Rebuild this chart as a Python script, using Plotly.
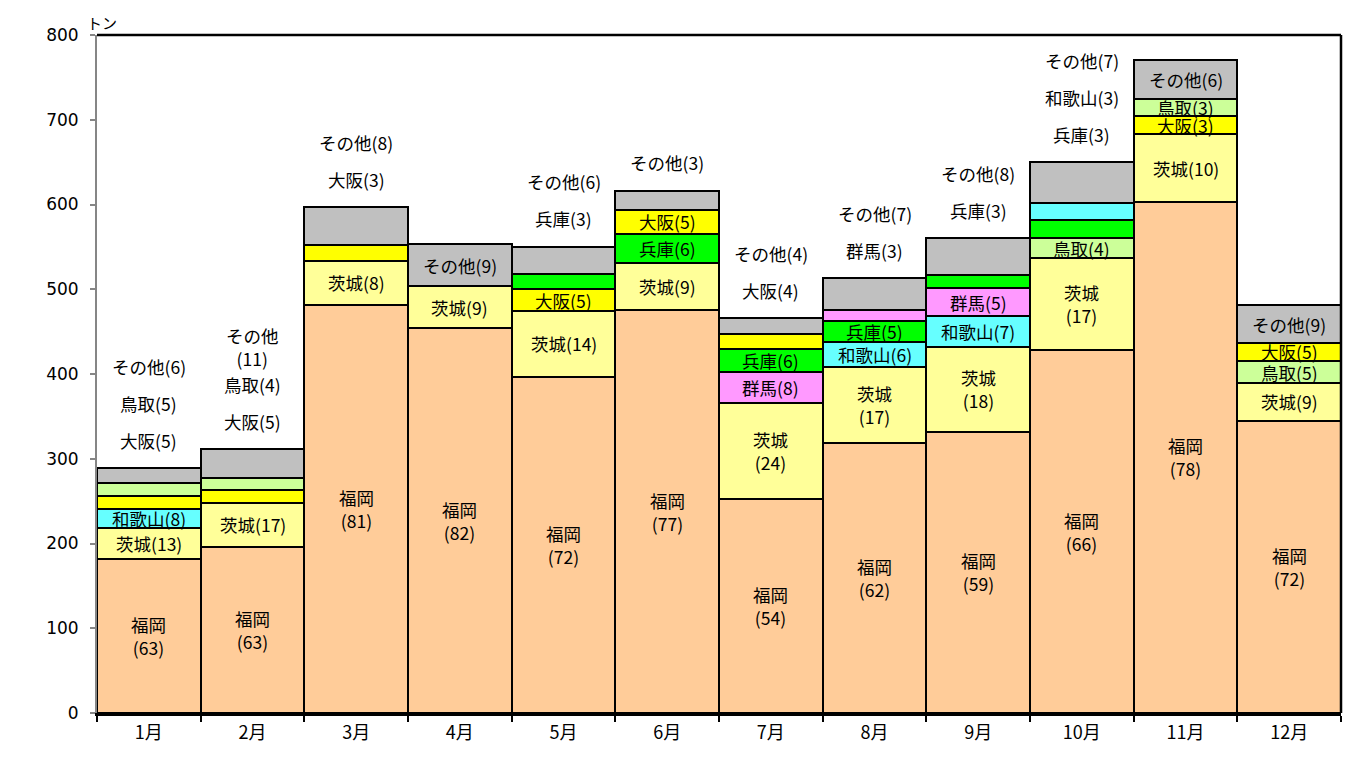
import plotly.graph_objects as go

months = ['1月', '2月', '3月', '4月', '5月', '6月', '7月', '8月', '9月', '10月', '11月', '12月']

# tonnage by rank within each month (bottom to top of each stack)
fukuoka_t = [182, 196, 482, 454, 397, 475, 252, 319, 332, 428, 603, 345]
fukuoka_pct = [63, 63, 81, 82, 72, 77, 54, 62, 59, 66, 78, 72]

ibaraki_t = [36, 52, 51, 50, 77, 56, 114, 89, 100, 109, 80, 44]
ibaraki_pct = [13, 17, 8, 9, 14, 9, 24, 17, 18, 17, 10, 9]

rank3_name = ['和歌山', '大阪', '大阪', None, '大阪', '兵庫', '群馬', '和歌山', '和歌山', '鳥取', '大阪', '鳥取']
rank3_t = [23, 15, 19, None, 26, 34, 36, 30, 36, 23, 21, 26]
rank3_pct = [8, 5, 3, None, 5, 6, 8, 6, 7, 4, 3, 5]

rank4_name = ['大阪', '鳥取', None, None, '兵庫', '大阪', '兵庫', '兵庫', '群馬', '兵庫', '鳥取', '大阪']
rank4_t = [15, 14, None, None, 18, 29, 28, 24, 33, 22, 21, 22]
rank4_pct = [5, 4, None, None, 3, 5, 6, 5, 5, 3, 3, 5]

rank5_name = ['鳥取', None, None, None, None, None, '大阪', '群馬', '兵庫', '和歌山', None, None]
rank5_t = [15, None, None, None, None, None, 17, 14, 16, 20, None, None]
rank5_pct = [5, None, None, None, None, None, 4, 3, 3, 3, None, None]

other_t = [18, 34, 45, 49, 32, 22, 19, 37, 43, 48, 45, 44]
other_pct = [6, 11, 8, 9, 6, 3, 4, 7, 8, 7, 6, 9]

# number of top segments whose labels sit above the bar
labels_above = [3, 3, 2, 0, 2, 1, 2, 2, 2, 3, 0, 0]

color_map = {
    '福岡': '#FFCC99', '茨城': '#FFFF99', '和歌山': '#66FFFF', '大阪': '#FFFF00',
    '鳥取': '#CCFF99', '兵庫': '#00FF00', '群馬': '#FF99FF', 'その他': '#C0C0C0',
}

layers = [
    (['福岡'] * 12, fukuoka_t, fukuoka_pct),
    (['茨城'] * 12, ibaraki_t, ibaraki_pct),
    (rank3_name, rank3_t, rank3_pct),
    (rank4_name, rank4_t, rank4_pct),
    (rank5_name, rank5_t, rank5_pct),
    (['その他'] * 12, other_t, other_pct),
]

JP = 'Noto Sans CJK JP'
LABEL_SIZE = 17.5
fig = go.Figure()
for names, vals, pcts in layers:
    fig.add_trace(go.Bar(
        x=months, y=vals,
        marker=dict(color=[color_map.get(n, 'rgba(0,0,0,0)') if n else 'rgba(0,0,0,0)' for n in names],
                    line=dict(color='black', width=2.5)),
        hoverinfo='skip', showlegend=False,
    ))

annotations = []
for i, m in enumerate(months):
    segs = []
    for names, vals, pcts in layers:
        if vals[i] is not None:
            segs.append((names[i], vals[i], pcts[i]))
    total = sum(s[1] for s in segs)
    n_out = labels_above[i]
    base = 0
    out_idx = 0
    for k, (name, val, pct) in enumerate(segs):
        txt = f'{name}({pct})'
        if val >= 85 or len(txt) > 6:
            txt = f'{name}<br>({pct})'
        if k >= len(segs) - n_out:
            annotations.append(dict(
                x=m, y=total, xref='x', yref='y', text=txt, showarrow=False,
                yanchor='middle', yshift=28 + 37 * out_idx,
                font=dict(family=JP, size=LABEL_SIZE, color='black')))
            out_idx += 1
        else:
            annotations.append(dict(
                x=m, y=base + val / 2, xref='x', yref='y', text=txt, showarrow=False,
                yanchor='middle', font=dict(family=JP, size=LABEL_SIZE, color='black')))
        base += val

annotations.append(dict(
    x=0, y=1, xref='paper', yref='paper', text='トン', showarrow=False,
    xanchor='center', yanchor='bottom', xshift=5, yshift=1, borderpad=0,
    font=dict(family=JP, size=15, color='black')))

fig.update_layout(
    width=1345, height=750,
    margin=dict(l=89, r=12, t=27, b=45),
    barmode='stack', bargap=0,
    plot_bgcolor='white', paper_bgcolor='white',
    annotations=annotations,
    shapes=[
        dict(type='line', xref='paper', yref='paper', x0=0, x1=1, y0=1, y1=1,
             line=dict(color='black', width=2.5)),
        dict(type='line', xref='paper', yref='paper', x0=1, x1=1, y0=0, y1=1,
             line=dict(color='black', width=2.5)),
    ],
    xaxis=dict(
        type='category', showgrid=False, showline=True, linecolor='black', linewidth=2.5,
        ticks='outside', tickson='boundaries', ticklen=6, tickcolor='black', tickwidth=2,
        tickfont=dict(family=JP, size=18, color='black'), ticklabelstandoff=2,
    ),
    yaxis=dict(
        range=[0, 800], dtick=100, showgrid=False, zeroline=False,
        showline=True, linecolor='#868686', linewidth=2,
        ticks='outside', ticklen=5, tickcolor='#868686', tickwidth=2,
        tickfont=dict(family='DejaVu Sans', size=17, color='black'), ticklabelstandoff=8,
    ),
)

fig.write_html('out.html')
